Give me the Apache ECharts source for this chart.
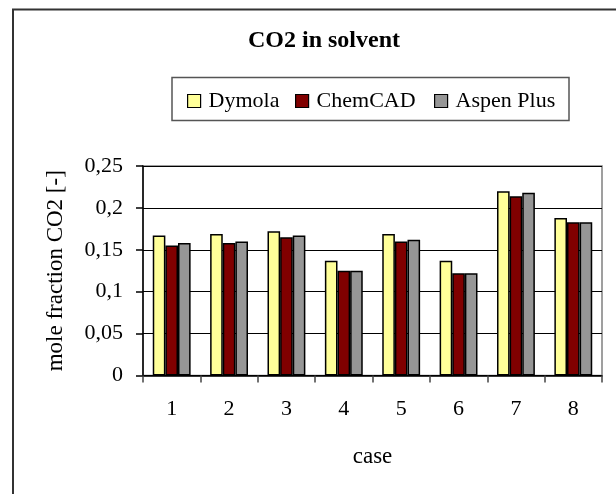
<!DOCTYPE html>
<html>
<head>
<meta charset="utf-8">
<script src="https://cdn.jsdelivr.net/npm/echarts@6/dist/echarts.min.js"></script>
<style>
  html, body { margin: 0; padding: 0; background: #fff; }
  #chart { width: 616px; height: 494px; }
</style>
</head>
<body>
<div id="chart"></div>
<script>
// Case numbers along the x axis
const cases = ['1', '2', '3', '4', '5', '6', '7', '8'];
// Mole fraction of CO2 in the solvent, per simulation tool
const dymola   = [0.167, 0.169, 0.172, 0.137, 0.169, 0.137, 0.220, 0.188];
const chemcad  = [0.155, 0.158, 0.165, 0.125, 0.160, 0.122, 0.214, 0.183];
const aspen    = [0.158, 0.160, 0.167, 0.125, 0.162, 0.122, 0.218, 0.183];
// Value axis ticks
const yTicks = [0, 0.05, 0.1, 0.15, 0.2, 0.25];

const FONT = '"Liberation Serif", "Times New Roman", serif';
const chart = echarts.init(document.getElementById('chart'), null, { renderer: 'canvas' });

function fmt(v) { return String(v).replace('.', ','); }

function barSeries(name, data, color) {
  return {
    name: name,
    type: 'bar',
    data: data,
    barGap: '0%',
    barCategoryGap: '34%',
    itemStyle: { color: color, borderColor: '#000', borderWidth: 1.5 },
    emphasis: { disabled: true }
  };
}

function legendAt(name, left) {
  return {
    data: [name],
    left: left,
    top: 85,
    itemWidth: 13,
    itemHeight: 13,
    icon: 'rect',
    itemStyle: { borderColor: '#000', borderWidth: 1.2 },
    textStyle: { fontFamily: FONT, fontSize: 22, color: '#000', padding: [0, 0, 0, 3] },
    selectedMode: false
  };
}

chart.setOption({
  animation: false,
  backgroundColor: '#fff',
  title: {
    text: 'CO2 in solvent',
    left: 319,
    textAlign: 'center',
    top: 24,
    textStyle: { fontFamily: FONT, fontSize: 24, fontWeight: 'bold', color: '#000' }
  },
  legend: [
    legendAt('Dymola', 182),
    legendAt('ChemCAD', 290),
    legendAt('Aspen Plus', 429)
  ],
  graphic: [
    {
      type: 'rect',
      shape: { x: 13, y: 9.5, width: 700, height: 600 },
      style: { fill: 'none', stroke: '#333', lineWidth: 2 },
      silent: true
    },
    {
      type: 'rect',
      shape: { x: 172, y: 77.5, width: 397, height: 43 },
      style: { fill: 'none', stroke: '#555', lineWidth: 1.5 },
      silent: true
    }
  ],
  grid: {
    left: 143, right: 14, top: 166, bottom: 118.5,
    show: true, borderColor: '#808080', borderWidth: 1.5,
    containLabel: false
  },
  xAxis: {
    type: 'category',
    data: cases,
    name: 'case',
    nameLocation: 'middle',
    nameGap: 70,
    nameTextStyle: { fontFamily: FONT, fontSize: 23, color: '#000' },
    axisLine: { lineStyle: { color: '#000', width: 1.5 } },
    axisTick: { show: true, length: 7, lineStyle: { color: '#444', width: 1.5 } },
    axisLabel: { fontFamily: FONT, fontSize: 22, color: '#000', margin: 23 },
    splitLine: { show: false }
  },
  yAxis: {
    type: 'value',
    min: yTicks[0],
    max: yTicks[yTicks.length - 1],
    interval: 0.05,
    name: 'mole fraction CO2 [-]',
    nameLocation: 'middle',
    nameGap: 76,
    nameTextStyle: { fontFamily: FONT, fontSize: 23, color: '#000' },
    axisLine: { show: true, lineStyle: { color: '#000', width: 1.5 } },
    axisTick: { show: true, length: 7, lineStyle: { color: '#000', width: 1.5 } },
    axisLabel: { fontFamily: FONT, fontSize: 22, color: '#000', margin: 20, formatter: fmt },
    splitLine: { show: true, lineStyle: { color: '#000', width: 1.2 } }
  },
  series: [
    barSeries('Dymola', dymola, '#FFFF99'),
    barSeries('ChemCAD', chemcad, '#800000'),
    barSeries('Aspen Plus', aspen, '#969696')
  ]
});
</script>
</body>
</html>
